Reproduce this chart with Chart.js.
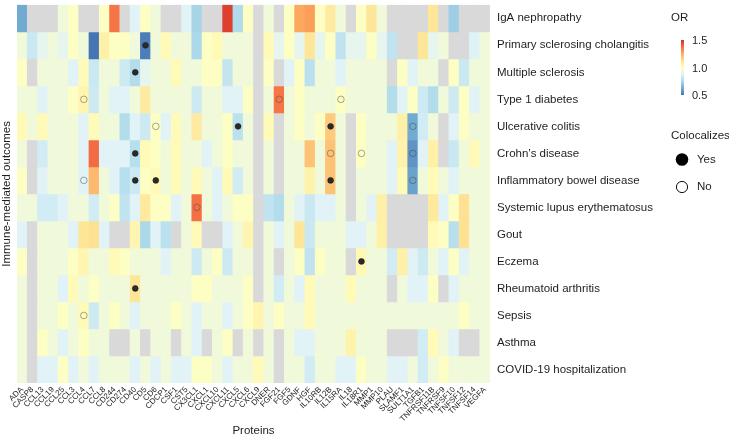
<!DOCTYPE html>
<html>
<head>
<meta charset="utf-8">
<script src="https://cdn.jsdelivr.net/npm/chart.js@4.4.1/dist/chart.umd.min.js"></script>
<style>
  html, body { margin: 0; padding: 0; background: #fff; }
</style>
</head>
<body>
<canvas id="heat" width="729" height="438"></canvas>
<script>
const proteins = ["ADA", "CASP8", "CCL13", "CCL19", "CCL25", "CCL3", "CCL4", "CCL7", "CCL8", "CD244",
  "CD274", "CD40", "CD5", "CD6", "CDCP1", "CSF1", "CST5", "CX3CL1", "CXCL1", "CXCL10",
  "CXCL11", "CXCL5", "CXCL6", "CXCL9", "DNER", "FGF21", "FGF5", "GDNF", "HGF", "IL10RB",
  "IL12B", "IL15RA", "IL18", "IL18R1", "MMP1", "MMP10", "PLAU", "SLAMF1", "SULT1A1", "TGFB1",
  "TNFRSF11B", "TNFRSF9", "TNFSF10", "TNFSF12", "TNFSF14", "VEGFA"];

const outcomes = ["IgA nephropathy", "Primary sclerosing cholangitis", "Multiple sclerosis",
  "Type 1 diabetes", "Ulcerative colitis", "Crohn\u2019s disease", "Inflammatory bowel disease",
  "Systemic lupus erythematosus", "Gout", "Eczema", "Rheumatoid arthritis", "Sepsis", "Asthma",
  "COVID-19 hospitalization"];

// odds ratios, one array per outcome, in protein order (null = not available)
const orIga = [0.62, null, null, null, 0.94, 0.99, null, null, 0.99, 1.36, null, 0.88, 0.99, 0.94, null, null, 0.88, 0.74, null, null, 1.47, 0.76, 0.99, null, 0.94, null, 0.99, 1.26, 1.28, 0.99, 1.08, 0.94, null, 0.99, 1.1, 0.94, null, null, null, null, 1.1, null, 0.72, null, null, null];
const orPsc = [0.94, 0.82, 0.9, 0.94, 0.9, 0.99, 0.94, 0.5, 1.06, 0.99, 0.99, 0.94, 0.52, 0.94, 1.02, 0.94, 0.94, 0.75, 0.99, 1.02, 0.94, 0.94, 0.94, null, 1.02, 0.9, 0.99, 0.9, 1.1, 0.9, 0.99, 0.8, 0.9, 0.9, 0.99, 0.9, 0.8, null, null, 1.1, 0.9, 0.94, null, null, 0.87, 0.94];
const orMs = [0.99, null, 0.94, 0.94, 0.94, 0.88, 1.02, 0.82, 0.94, 0.94, 0.83, 0.77, 0.9, 0.94, 0.94, 1.02, 0.94, 0.94, 0.99, 0.99, 0.81, 0.94, 0.94, null, 0.99, null, 0.88, 0.99, 0.79, 0.94, 0.94, 0.88, 0.94, 0.94, 0.94, 0.94, null, 0.99, 0.88, 0.94, 0.94, null, 0.99, 0.82, 0.94, 0.94];
const orT1d = [0.94, 0.94, 0.88, 0.94, 0.94, 0.99, 1.04, 0.83, 0.94, 0.88, 0.88, 0.94, 1.08, 0.94, 0.94, 0.94, 0.94, 0.83, 0.94, 0.94, 0.88, 0.88, 0.99, null, 0.94, 1.36, 0.94, 0.99, 0.94, 0.94, 0.94, 0.99, 0.94, 0.94, 0.94, 0.94, 0.77, 0.88, 0.99, 0.83, 0.77, 0.94, 0.83, 0.99, 0.88, 0.94];
const orUc = [1.02, 0.94, 1.02, 0.94, 0.94, 0.94, 0.88, 1.02, 0.94, 0.94, 0.77, 0.88, 0.83, 0.99, 0.88, 1.02, 0.94, 1.08, 0.94, 0.94, 0.99, 0.79, 0.94, null, 1.02, null, 0.94, 0.99, 0.94, 0.99, 1.18, 0.94, null, 0.99, 0.94, 0.94, 0.94, 1.06, 0.62, 0.84, 0.94, null, 0.88, 0.99, 0.94, 0.94];
const orCd = [0.94, null, 0.84, 0.94, 0.94, 0.94, 0.88, 1.38, 0.88, 0.88, 0.88, 0.78, 1.02, 0.99, 0.94, 1.02, 0.94, 0.94, 0.88, 0.94, 0.99, 0.94, 0.94, null, 0.94, null, 0.94, 0.94, 1.2, 0.94, 1.2, 0.94, null, 0.99, 0.94, 0.94, 0.88, 1.05, 0.57, 0.88, 1.06, null, 0.82, 0.94, 1.02, 0.94];
const orIbd = [0.99, null, 0.88, 0.94, 0.94, 0.94, 0.88, 1.22, 0.94, 0.88, 0.78, 0.83, 0.99, 1.02, 0.94, 1.02, 0.94, 1.02, 0.94, 0.88, 1.02, 0.84, 0.94, null, 0.94, null, 0.94, 0.94, 1.05, 0.94, 1.2, 0.94, null, 0.94, 0.94, 0.94, 0.88, 1.02, 0.6, 0.94, 1.02, 0.94, 0.88, 0.94, 0.94, 0.94];
const orSle = [0.94, 0.94, 0.84, 0.84, 0.88, 0.94, 0.94, 0.84, 0.94, 0.99, 0.8, 0.88, 1.09, 0.99, 0.99, 0.88, 0.94, 1.37, 0.94, 0.88, 0.94, 0.99, 0.99, null, 0.8, 0.77, 0.94, 0.88, 0.82, 0.88, 0.88, 0.94, null, 0.94, 0.88, 1.06, null, null, null, null, 1.09, 0.88, 0.99, 1.12, 0.94, 0.94];
const orGout = [0.88, null, 0.94, 0.94, 0.94, 0.88, 1.1, 1.12, 0.88, null, null, 1.04, 0.75, 0.88, 0.79, null, 0.94, 1.02, null, null, 0.88, 0.94, 1.04, null, 0.94, 0.88, 0.94, 1.1, 0.82, 0.94, 0.94, 0.94, 0.88, 0.88, 0.94, 1.06, null, null, null, null, 1.02, 0.99, 0.78, 1.12, 0.94, 0.94];
const orEczema = [0.99, null, 0.94, 0.94, 0.94, 0.99, 1.04, 0.94, 0.94, 1.02, 0.99, 0.94, 0.94, 0.94, 0.88, 0.94, 0.94, 0.83, 0.94, 0.99, 0.83, 0.94, 0.94, null, 0.94, null, 0.94, 0.99, 0.8, 0.99, 0.94, 0.94, null, 1.03, 0.94, 0.94, 0.84, 1.06, 0.88, 0.83, 0.94, 0.88, 0.99, 0.88, 0.94, 0.94];
const orRa = [0.94, null, 0.94, 0.94, 0.88, 1.02, 0.94, 0.99, 0.94, 0.94, 0.94, 1.1, 0.94, 0.94, 0.94, 0.94, 0.94, 0.99, 0.99, 0.94, 0.94, 0.94, 0.99, null, 0.94, 0.84, 0.94, 0.88, 1.02, 0.94, 0.94, 0.94, 1.02, 0.94, 0.94, 0.94, null, 0.94, 0.88, 0.88, 0.99, null, 0.88, 0.94, 0.94, 0.94];
const orSepsis = [0.94, null, 0.94, 0.94, 0.99, 0.94, 1.02, 0.83, 0.94, 0.99, 0.94, 0.88, 0.94, 0.94, 0.94, 0.99, 0.94, 0.88, 0.94, 0.94, 0.88, 0.94, 0.99, 1.04, 0.94, 0.99, 0.94, 0.94, 1.02, 0.94, 0.94, 0.94, 0.94, 0.94, 0.94, 0.94, 0.94, 0.94, 0.94, 0.94, 0.94, 0.94, 0.94, 0.99, 0.94, 0.94];
const orAsthma = [0.94, null, 0.99, 0.94, 0.88, 0.94, 0.99, 0.94, 0.94, null, null, 0.94, null, 0.94, 0.94, null, 0.94, 0.88, null, 0.94, 0.99, null, 0.94, null, 0.94, null, 0.94, 0.88, 0.88, 0.94, 0.94, 0.94, 1.05, 0.94, 0.94, 0.94, null, null, null, 0.84, 1.02, 0.94, 0.88, null, null, 0.94];
const orCovid = [0.94, null, 0.88, 0.88, 0.99, 0.88, 0.94, 0.88, 0.94, 0.94, 0.94, 0.88, 0.94, 0.88, 0.94, 0.88, 0.88, 0.99, 0.99, 0.94, 0.88, 0.94, 0.94, 1.02, 0.94, null, 0.94, 0.94, 0.84, 0.94, 0.94, 0.88, 0.88, 0.99, 0.94, 0.94, 0.88, 0.88, 0.94, 0.84, 0.94, 0.99, 0.94, 0.94, 0.94, 0.94];

const orRows = [orIga, orPsc, orMs, orT1d, orUc, orCd, orIbd, orSle, orGout, orEczema, orRa, orSepsis, orAsthma, orCovid];

// colocalization results: [outcome, protein]
const colocYes = [
  ["Primary sclerosing cholangitis", "CD5"], ["Multiple sclerosis", "CD40"],
  ["Ulcerative colitis", "CXCL5"], ["Ulcerative colitis", "IL12B"],
  ["Crohn\u2019s disease", "CD40"], ["Inflammatory bowel disease", "CD40"],
  ["Inflammatory bowel disease", "CD6"], ["Inflammatory bowel disease", "IL12B"],
  ["Eczema", "IL18R1"], ["Rheumatoid arthritis", "CD40"]];
const colocNo = [
  ["Type 1 diabetes", "CCL4"], ["Type 1 diabetes", "FGF21"], ["Type 1 diabetes", "IL15RA"],
  ["Ulcerative colitis", "CD6"], ["Ulcerative colitis", "SULT1A1"],
  ["Crohn\u2019s disease", "IL12B"], ["Crohn\u2019s disease", "IL18R1"], ["Crohn\u2019s disease", "SULT1A1"],
  ["Inflammatory bowel disease", "CCL4"], ["Inflammatory bowel disease", "SULT1A1"],
  ["Systemic lupus erythematosus", "CX3CL1"], ["Sepsis", "CCL4"]];

const FONT = "'Liberation Sans', Arial, sans-serif";
const TEXT = "#1e1e1e";
const NA_COLOR = "#d9d9d9";

// RdYlBu, 0.5 -> 1.5
const stops = [[0.5, "#4575b4"], [0.625, "#74add1"], [0.75, "#abd9e9"], [0.875, "#e0f3f8"],
  [1.0, "#ffffbf"], [1.125, "#fee090"], [1.25, "#fdae61"], [1.375, "#f46d43"], [1.5, "#d73027"]];

function hexRgb(h) {
  return [parseInt(h.slice(1, 3), 16), parseInt(h.slice(3, 5), 16), parseInt(h.slice(5, 7), 16)];
}

function orColour(v) {
  if (v === null) return NA_COLOR;
  v = Math.max(0.5, Math.min(1.5, v));
  for (let i = 0; i < stops.length - 1; i++) {
    let [a, ca] = stops[i];
    let [b, cb] = stops[i + 1];
    if (v <= b) {
      let t = (v - a) / (b - a);
      let p = hexRgb(ca), q = hexRgb(cb);
      let c = p.map((x, k) => Math.round(x + (q[k] - x) * t));
      return "rgb(" + c.join(",") + ")";
    }
  }
  return stops[stops.length - 1][1];
}

let datasets = orRows.map((vals, i) => ({
  type: "bar",
  label: outcomes[i],
  data: proteins.map(() => [i, i + 1]),
  backgroundColor: vals.map(orColour),
  borderWidth: 0,
  grouped: false,
  barPercentage: 1,
  categoryPercentage: 1,
  yAxisID: "y",
  order: 2,
}));

datasets.push({
  type: "line",
  label: "Yes",
  showLine: false,
  data: colocYes.map(([o, p]) => ({ x: p, y: outcomes.indexOf(o) + 0.5 })),
  pointRadius: 2.9,
  pointBackgroundColor: "#2a2a2a",
  pointBorderColor: "#1a1a1a",
  pointBorderWidth: 0.6,
  yAxisID: "y",
  order: 0,
});
datasets.push({
  type: "line",
  label: "No",
  showLine: false,
  data: colocNo.map(([o, p]) => ({ x: p, y: outcomes.indexOf(o) + 0.5 })),
  pointRadius: 3.3,
  pointBackgroundColor: "rgba(0,0,0,0)",
  pointBorderColor: "rgba(70,70,70,0.6)",
  pointBorderWidth: 0.8,
  yAxisID: "y",
  order: 0,
});

// legend on the right
const sideLegend = {
  id: "sideLegend",
  afterDraw(chart) {
    let ctx = chart.ctx;
    ctx.save();
    ctx.fillStyle = TEXT;
    ctx.font = "11.5px " + FONT;
    ctx.textAlign = "left";
    ctx.textBaseline = "middle";
    ctx.fillText("OR", 671, 18);

    let top = 40, bottom = 95;
    let grad = ctx.createLinearGradient(0, bottom, 0, top);
    stops.forEach(([v, c]) => grad.addColorStop(v - 0.5, c));
    ctx.fillStyle = grad;
    ctx.fillRect(681, top, 3, bottom - top);

    ctx.fillStyle = TEXT;
    ctx.font = "11px " + FONT;
    ["0.5", "1.0", "1.5"].forEach((t) => {
      let y = bottom - (parseFloat(t) - 0.5) * (bottom - top);
      ctx.fillText(t, 692, y + 1);
    });

    ctx.font = "11.5px " + FONT;
    ctx.fillText("Colocalizes", 671, 136);

    ctx.beginPath();
    ctx.arc(682, 159.5, 6.3, 0, Math.PI * 2);
    ctx.fillStyle = "#000";
    ctx.fill();
    ctx.beginPath();
    ctx.arc(682, 187, 5.6, 0, Math.PI * 2);
    ctx.strokeStyle = "#111";
    ctx.lineWidth = 1;
    ctx.stroke();

    ctx.fillStyle = TEXT;
    ctx.fillText("Yes", 697, 160);
    ctx.fillText("No", 697, 187);
    ctx.restore();
  },
};

new Chart(document.getElementById("heat"), {
  type: "bar",
  data: { labels: proteins, datasets: datasets },
  options: {
    responsive: false,
    animation: false,
    layout: { padding: 0 },
    plugins: {
      legend: { display: false },
      tooltip: { enabled: false },
    },
    scales: {
      x: {
        type: "category",
        position: "bottom",
        grid: { display: false, drawTicks: false },
        border: { display: false },
        ticks: {
          autoSkip: false,
          minRotation: 45,
          maxRotation: 45,
          padding: 2,
          color: TEXT,
          font: { family: FONT, size: 8 },
        },
        title: {
          display: true,
          text: "Proteins",
          color: TEXT,
          font: { family: FONT, size: 11.5 },
          padding: { top: 0, bottom: 0 },
        },
        afterFit: (s) => { s.height = 55; s.paddingLeft = 0; s.paddingRight = 0; },
      },
      y: {
        type: "linear",
        position: "left",
        min: 0,
        max: 14,
        reverse: true,
        grid: { display: false, drawTicks: false },
        border: { display: false },
        ticks: { display: false },
        title: {
          display: true,
          text: "Immune-mediated outcomes",
          color: TEXT,
          font: { family: FONT, size: 11.5 },
          padding: 0,
        },
        afterFit: (s) => { s.width = 17; s.paddingTop = 0; s.paddingBottom = 0; },
      },
      rows: {
        type: "linear",
        position: "right",
        min: 0,
        max: 14,
        reverse: true,
        grid: { display: false, drawTicks: false },
        border: { display: false },
        afterBuildTicks: (s) => { s.ticks = outcomes.map((o, i) => ({ value: i + 0.5 })); },
        ticks: {
          padding: 7,
          color: TEXT,
          font: { family: FONT, size: 11.5 },
          callback: (v, i) => outcomes[i],
        },
        afterFit: (s) => { s.width = 239; s.paddingTop = 0; s.paddingBottom = 0; },
      },
    },
  },
  plugins: [sideLegend],
});
</script>
</body>
</html>
